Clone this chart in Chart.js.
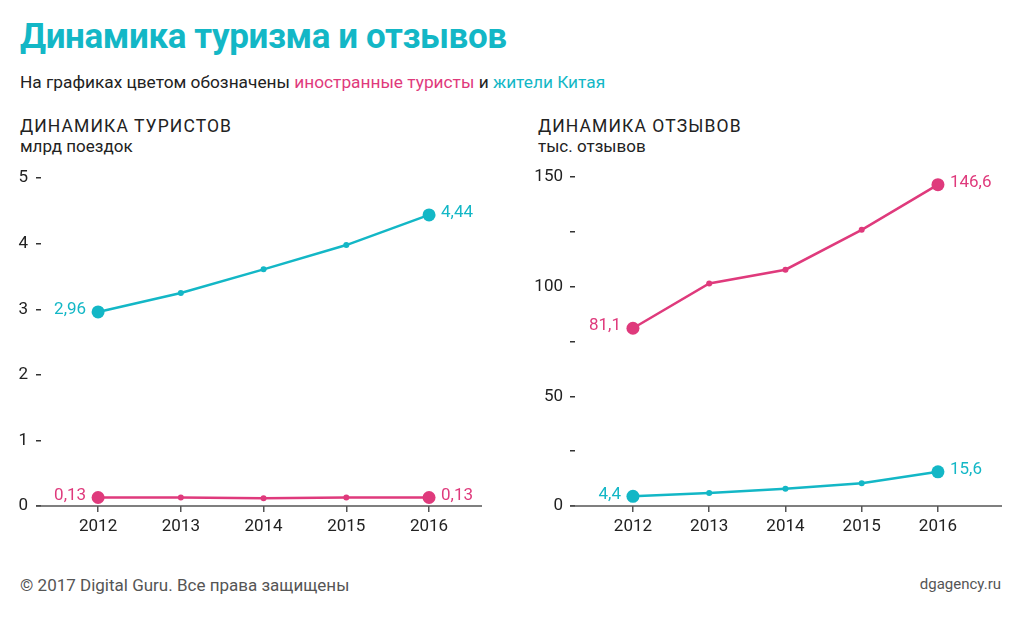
<!DOCTYPE html>
<html lang="ru">
<head>
<meta charset="utf-8">
<script src="https://cdn.jsdelivr.net/npm/chart.js@4"></script>
<style>
  body { margin: 0; background: #fff; font-family: Roboto, "Noto Sans", sans-serif; color: #222; }
  .wrap { position: relative; width: 1023px; height: 623px; overflow: hidden; }
  .t { position: absolute; white-space: nowrap; }
  #title { left: 20px; top: 16px; font-size: 35px; font-weight: bold; color: #13b7c6; letter-spacing: -0.4px; }
  #sub { left: 20px; top: 72px; font-size: 17.3px; color: #222; }
  .pink { color: #df3a7c; }
  .teal { color: #13b7c6; }
  .head { font-size: 17.5px; letter-spacing: 1.1px; color: #222; }
  .unit { font-size: 17px; color: #222; }
  canvas { position: absolute; }
  #foot1 { left: 20px; top: 575px; font-size: 17px; color: #555; }
  #foot2 { right: 22px; top: 575px; font-size: 15px; color: #555; }
</style>
</head>
<body>
<div class="wrap">
  <div class="t" id="title">Динамика туризма и отзывов</div>
  <div class="t" id="sub">На графиках цветом обозначены <span class="pink">иностранные туристы</span> и <span class="teal">жители Китая</span></div>
  <div class="t head" style="left:20px; top:116px;">ДИНАМИКА ТУРИСТОВ</div>
  <div class="t unit" style="left:20px; top:136px;">млрд поездок</div>
  <div class="t head" style="left:538px; top:116px;">ДИНАМИКА ОТЗЫВОВ</div>
  <div class="t unit" style="left:538px; top:136px;">тыс. отзывов</div>
  <canvas id="tourists" width="500" height="390" style="left:0; top:160px;"></canvas>
  <canvas id="reviews" width="503" height="390" style="left:520px; top:160px;"></canvas>
  <div class="t" id="foot1">© 2017 Digital Guru. Все права защищены</div>
  <div class="t" id="foot2">dgagency.ru</div>
</div>
<script>
const years = [2012, 2013, 2014, 2015, 2016];

// млрд поездок
const touristsForeign = [0.13, 0.13, 0.12, 0.13, 0.13];
const touristsChina = [2.96, 3.25, 3.61, 3.98, 4.44];

// тыс. отзывов
const reviewsForeign = [81.1, 101.5, 107.8, 126, 146.6];
const reviewsChina = [4.4, 5.9, 7.9, 10.4, 15.6];

const PINK = "#df3a7c";
const TEAL = "#13b7c6";
const FONT = "Roboto, 'Noto Sans', sans-serif";

// labels next to first and last points
const endLabels = {
  id: "endLabels",
  afterDatasetsDraw(chart) {
    const ctx = chart.ctx;
    ctx.save();
    ctx.font = "17px " + FONT;
    ctx.textBaseline = "middle";
    chart.data.datasets.forEach((ds, i) => {
      const pts = chart.getDatasetMeta(i).data;
      const first = pts[0], last = pts[pts.length - 1];
      const fmt = v => String(v.y).replace(".", ",");
      ctx.fillStyle = ds.borderColor;
      ctx.textAlign = "right";
      ctx.fillText(fmt(ds.data[0]), first.x - 12, first.y - 2);
      ctx.textAlign = "left";
      ctx.fillText(fmt(ds.data[ds.data.length - 1]), last.x + 12, last.y - 2);
    });
    ctx.restore();
  }
};

// baseline, starts a bit left of the plot like in the original
const baseline = {
  id: "baseline",
  beforeDatasetsDraw(chart) {
    const { ctx, chartArea } = chart;
    const y = chart.scales.y.getPixelForValue(0);
    ctx.save();
    ctx.strokeStyle = "#555";
    ctx.lineWidth = 1.5;
    ctx.beginPath();
    ctx.moveTo(chartArea.left - 5, y);
    ctx.lineTo(chartArea.right, y);
    ctx.stroke();
    ctx.restore();
  }
};

function makeSeries(vals, color) {
  const last = vals.length - 1;
  return {
    data: years.map((yr, i) => ({ x: yr, y: vals[i] })),
    borderColor: color,
    backgroundColor: color,
    borderWidth: 2.5,
    pointRadius: c => (c.dataIndex === 0 || c.dataIndex === last) ? 6.5 : 3,
    pointHoverRadius: 6.5,
    pointBorderWidth: 0,
    clip: false
  };
}

function makeChart(id, series, yOpts, xMin, xMax, yWidth, padTop, padRight) {
  new Chart(document.getElementById(id), {
    type: "line",
    data: { datasets: series },
    options: {
      responsive: false,
      animation: false,
      devicePixelRatio: 1,
      layout: { padding: { top: padTop, right: padRight, left: 0, bottom: 0 } },
      plugins: { legend: { display: false }, tooltip: { enabled: false } },
      scales: {
        x: {
          type: "linear",
          min: xMin,
          max: xMax,
          afterBuildTicks: s => { s.ticks = years.map(v => ({ value: v })); },
          afterFit: s => { s.height = 44; },
          border: { display: false },
          grid: { drawOnChartArea: false, tickLength: 6, color: "#555", lineWidth: 1.5 },
          ticks: { color: "#222", font: { size: 17, family: FONT }, padding: 5, callback: v => String(v) }
        },
        y: Object.assign({
          afterFit: s => { s.width = yWidth; },
          border: { display: false },
          grid: { drawOnChartArea: false, tickLength: 5, color: "#333", lineWidth: 1.5 },
        }, yOpts)
      }
    },
    plugins: [baseline, endLabels]
  });
}

makeChart("tourists",
  [makeSeries(touristsForeign, PINK), makeSeries(touristsChina, TEAL)],
  { min: 0, max: 5, ticks: { stepSize: 1, padding: 8, color: "#222", font: { size: 17, family: FONT } } },
  2011.31, 2016.64, 41, 14, 18);

makeChart("reviews",
  [makeSeries(reviewsForeign, PINK), makeSeries(reviewsChina, TEAL)],
  { min: 0, max: 150, ticks: { stepSize: 25, padding: 7, color: "#222", font: { size: 17, family: FONT },
    callback: v => (v % 50 === 0 ? String(v) : "") } },
  2011.24, 2016.84, 55, 15, 21);
</script>
</body>
</html>
